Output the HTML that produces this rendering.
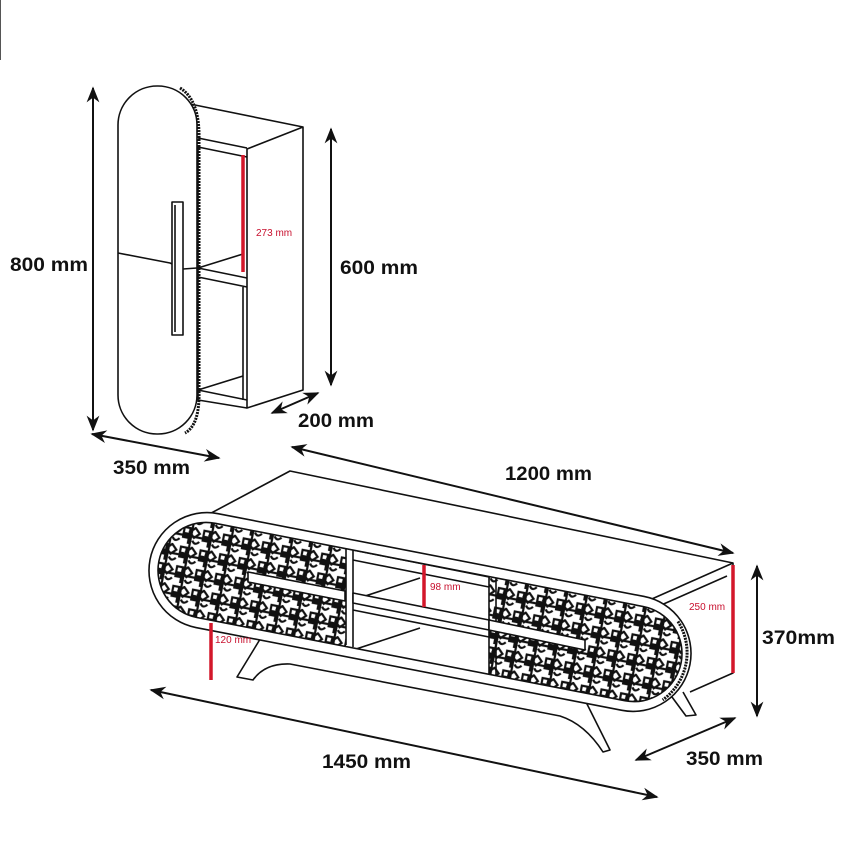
<!DOCTYPE html>
<html><head><meta charset="utf-8"><style>
html,body{margin:0;padding:0;background:#fff;}
svg{display:block;}
text{font-family:"Liberation Sans","DejaVu Sans",sans-serif;}
.b{font-weight:bold;font-size:19px;fill:#111;}
.r{font-size:10px;fill:#c8102e;}
</style></head><body>
<svg width="848" height="844" viewBox="0 0 848 844" xmlns="http://www.w3.org/2000/svg">
<defs>
<marker id="a" viewBox="0 0 10 10" refX="9" refY="5" markerWidth="8" markerHeight="8" orient="auto-start-reverse"><path d="M0,1 L10,5 L0,9 L3,5z" fill="#111"/></marker>
<pattern id="p" width="20" height="20" patternUnits="userSpaceOnUse" patternTransform="rotate(11)">
<rect width="20" height="20" fill="#fff"/>
<g fill="none" stroke="#111" stroke-width="2.2">
<rect x="2" y="2" width="6" height="6"/><path d="M13 1 L18 6 L13 11 L8 6z"/><path d="M1 12 h7 v6 M12 14 q3 5 7 0 M0 10 h20 M10 0 v20"/></g>
</pattern>
<clipPath id="cp"><rect x="-266" y="-48" width="532" height="96" rx="48" transform="translate(420,612) rotate(11)"/></clipPath>
</defs>
<line x1="0.5" y1="0" x2="0.5" y2="60" stroke="#555" stroke-width="1"/>
<g fill="none" stroke="#111" stroke-width="1.6" stroke-linejoin="round">
<path d="M190,104 L303,127 L247,149 L247,408 L303,390 L303,127"/>
<path d="M198,138 L247,148 M198,147 L247,157 M198,147 L198,400 L247,408"/>
<path d="M198,268 L243,254 M198,268 L247,278 M198,277 L247,287 M243,287 L243,400"/>
<path d="M198,390 L243,376 M198,390 L247,400"/>
<rect x="118" y="86" width="79" height="348" rx="39" fill="#fff"/>
<path d="M180,88 Q200,100 199,140 L199,390 Q200,425 185,433" stroke-width="3" stroke-dasharray="2 1"/>
<path d="M118,253 L170,263 L183,269 L197,268"/>
<rect x="172" y="202" width="11" height="133" fill="#fff"/>
<line x1="175" y1="205" x2="175" y2="332"/>
<path d="M200,519 L290,471 L733,563 L733,673 L690,692"/>
<path d="M645,602 L733,563 M650,610 L727,576"/>
<path d="M262,636 L237,677 L253,680 Q265,663 290,664 L560,716 Q585,724 603,752 L610,750 L585,700" fill="#fff"/>
<path d="M672,697 L686,716 L696,715 L683,692" fill="#fff"/>
<g transform="translate(420,612) rotate(11)">
<rect x="-275" y="-58" width="550" height="116" rx="58" fill="#fff"/>
<path d="M255,-40 A58 58 0 0 1 255,40" stroke-width="3" stroke-dasharray="2 1"/>
</g>
<g clip-path="url(#cp)">
<rect x="140" y="500" width="206" height="200" fill="url(#p)" stroke="none"/>
<rect x="489" y="540" width="220" height="200" fill="url(#p)" stroke="none"/>
<path d="M346,530 L346,645 M353,532 L353,647 M489,560 L489,690 M496,562 L496,692"/>
<path d="M353,550 L489,577 M353,560 L489,587 M353,600 L420,578 M353,610 L489,637 M353,650 L420,628"/>
</g>
<rect x="-266" y="-48" width="532" height="96" rx="48" transform="translate(420,612) rotate(11)"/>
<path d="M248,572 L345,591 L345,601 L248,582z" fill="#fff"/>
<path d="M353,593 L489,620 L489,630 L353,603z" fill="#fff"/>
<path d="M489,620 L585,640 L585,650 L489,630z" fill="#fff"/>
</g>
<g stroke="#d3172a" stroke-width="3.5">
<line x1="243" y1="155" x2="243" y2="272"/>
<line x1="211" y1="623" x2="211" y2="680"/>
<line x1="424" y1="565" x2="424" y2="607"/>
<line x1="733" y1="565" x2="733" y2="673"/>
</g>
<text class="r" x="256" y="236">273 mm</text>
<text class="r" x="215" y="643">120 mm</text>
<text class="r" x="430" y="590">98 mm</text>
<text class="r" x="689" y="610">250 mm</text>
<g stroke="#111" stroke-width="2" fill="none" marker-start="url(#a)" marker-end="url(#a)">
<line x1="93" y1="88" x2="93" y2="430"/>
<line x1="92" y1="434" x2="219" y2="458"/>
<line x1="331" y1="129" x2="331" y2="385"/>
<line x1="272" y1="413" x2="318" y2="393"/>
<line x1="292" y1="447" x2="733" y2="553"/>
<line x1="757" y1="566" x2="757" y2="716"/>
<line x1="151" y1="690" x2="657" y2="797"/>
<line x1="636" y1="760" x2="735" y2="718"/>
</g>
<text class="b" x="10" y="271" textLength="78" lengthAdjust="spacingAndGlyphs">800 mm</text>
<text class="b" x="340" y="274" textLength="78" lengthAdjust="spacingAndGlyphs">600 mm</text>
<text class="b" x="298" y="427" textLength="76" lengthAdjust="spacingAndGlyphs">200 mm</text>
<text class="b" x="113" y="474" textLength="77" lengthAdjust="spacingAndGlyphs">350 mm</text>
<text class="b" x="505" y="480" textLength="87" lengthAdjust="spacingAndGlyphs">1200 mm</text>
<text class="b" x="762" y="644" textLength="73" lengthAdjust="spacingAndGlyphs">370mm</text>
<text class="b" x="322" y="768" textLength="89" lengthAdjust="spacingAndGlyphs">1450 mm</text>
<text class="b" x="686" y="765" textLength="77" lengthAdjust="spacingAndGlyphs">350 mm</text>
</svg>
</body></html>
